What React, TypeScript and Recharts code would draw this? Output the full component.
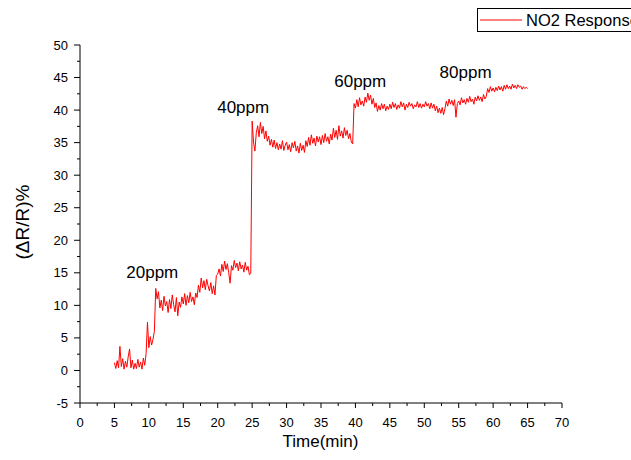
import { LineChart, Line, XAxis, YAxis, Legend, ReferenceDot } from 'recharts';

// sensor sampled every 0.2 min starting at 5 min
const START_MIN = 5;
const STEP_MIN = 0.2;

const resp05to10 = [1.2, 0.3, 1.5, 0.4, 3.7, 0.6, 1.8, 0.2, 1.4, 0.5, 2.1, 3.3, 0.4, 1.6, 0.2, 1.1, 0.3, 1.7, 0.5, 1.3, 0.2, 1.9, 0.8, 2.6, 7.4];
const resp10to15 = [3.5, 5.2, 3.9, 4.8, 6.0, 12.6, 11.0, 12.1, 9.6, 10.8, 9.2, 11.4, 9.9, 10.6, 8.9, 10.9, 9.5, 11.6, 10.1, 9.0, 11.2, 8.4, 10.5, 9.7, 11.3];
const resp15to20 = [10.2, 11.8, 10.0, 11.5, 10.4, 12.0, 10.6, 11.3, 10.1, 11.9, 11.2, 13.1, 12.0, 14.2, 12.7, 13.8, 12.4, 14.0, 13.0, 12.2, 13.5, 11.8, 13.0, 11.6, 14.6];
const resp20to25 = [14.8, 15.6, 14.5, 16.3, 15.2, 16.8, 15.5, 16.4, 15.0, 13.4, 16.1, 15.4, 16.9, 15.8, 16.5, 15.3, 16.7, 15.6, 16.2, 15.1, 16.6, 15.4, 16.0, 14.7, 14.9];
const resp25to30 = [38.3, 35.1, 33.7, 36.5, 37.6, 35.9, 38.1, 36.4, 37.5, 35.6, 36.8, 35.2, 36.0, 34.6, 35.5, 34.3, 35.4, 34.1, 35.0, 33.9, 34.8, 34.0, 35.3, 33.8, 34.6];
const resp30to35 = [35.1, 33.9, 34.7, 33.6, 35.0, 34.2, 35.2, 33.7, 34.5, 33.4, 34.9, 33.8, 34.6, 33.5, 35.3, 34.4, 35.8, 34.6, 36.2, 34.9, 35.7, 34.5, 36.0, 35.1, 35.9];
const resp35to40 = [34.7, 36.1, 35.0, 36.4, 35.2, 35.9, 34.8, 36.3, 35.4, 37.2, 35.8, 36.9, 35.5, 37.6, 36.0, 36.8, 35.7, 37.3, 36.1, 36.9, 35.6, 36.4, 35.1, 34.8, 41.0];
const resp40to45 = [40.3, 41.6, 40.5, 41.9, 40.8, 41.4, 40.6, 42.0, 41.2, 42.6, 41.5, 42.3, 40.9, 41.8, 40.4, 41.1, 39.8, 40.7, 40.0, 41.0, 40.2, 40.9, 39.9, 40.6, 40.1];
const resp45to50 = [40.9, 40.2, 41.2, 40.4, 41.0, 40.1, 40.8, 40.3, 41.3, 40.5, 41.1, 40.0, 40.9, 40.4, 41.2, 40.6, 41.0, 40.2, 40.8, 40.5, 41.3, 40.4, 41.0, 40.3, 40.9];
const resp50to55 = [40.5, 41.3, 40.6, 41.0, 40.2, 41.1, 40.3, 40.9, 39.9, 40.6, 39.6, 40.3, 39.5, 40.4, 39.3, 40.2, 41.4, 40.6, 41.7, 40.9, 41.5, 40.7, 41.6, 38.9, 41.0];
const resp55to60 = [41.4, 40.8, 41.9, 41.1, 41.6, 40.9, 41.8, 41.2, 42.1, 41.3, 41.7, 40.9, 42.0, 41.4, 42.2, 41.5, 42.0, 41.3, 42.4, 41.7, 42.1, 43.3, 42.7, 43.6, 42.9];
const resp60to65 = [43.4, 42.8, 43.5, 43.0, 43.7, 43.1, 43.6, 42.9, 43.8, 43.2, 43.9, 43.3, 43.7, 43.2, 44.0, 43.4, 43.8, 43.3, 43.9, 43.5, 43.7, 43.2, 43.6, 43.3, 43.5, 43.3];

const responseValues = [
  ...resp05to10, ...resp10to15, ...resp15to20, ...resp20to25,
  ...resp25to30, ...resp30to35, ...resp35to40, ...resp40to45,
  ...resp45to50, ...resp50to55, ...resp55to60, ...resp60to65,
];

const xTicks = [0, 2.5, 5, 7.5, 10, 12.5, 15, 17.5, 20, 22.5, 25, 27.5, 30, 32.5, 35, 37.5, 40, 42.5, 45, 47.5, 50, 52.5, 55, 57.5, 60, 62.5, 65, 67.5, 70];
const yTicks = [-5, -2.5, 0, 2.5, 5, 7.5, 10, 12.5, 15, 17.5, 20, 22.5, 25, 27.5, 30, 32.5, 35, 37.5, 40, 42.5, 45, 47.5, 50];

const ppmLabels = ['20ppm', '40ppm', '60ppm', '80ppm'];
const ppmLabelTime = [10.5, 23.7, 40.7, 56.0];
const ppmLabelResp = [14.2, 39.6, 43.6, 45.0];

const data = responseValues.map((v, i) => ({
  time: +(START_MIN + i * STEP_MIN).toFixed(1),
  response: v,
}));

const FONT = '"Liberation Sans", Arial, sans-serif';

const XTick = (props: any) => {
  const { x, y, payload } = props;
  const major = payload.value % 5 === 0;
  return (
    <g>
      <line x1={x} y1={y} x2={x} y2={y + (major ? 5 : 3)} stroke="#000" strokeWidth={1} />
      {major && (
        <text x={x} y={y + 15} dy="0.71em" textAnchor="middle" fontSize={13} fontFamily={FONT} fill="#000">
          {payload.value}
        </text>
      )}
    </g>
  );
};

const YTick = (props: any) => {
  const { x, y, payload } = props;
  const major = payload.value % 5 === 0;
  return (
    <g>
      <line x1={x - (major ? 6 : 3)} y1={y} x2={x} y2={y} stroke="#000" strokeWidth={1} />
      {major && (
        <text x={x - 12} y={y} dy="0.35em" textAnchor="end" fontSize={13} fontFamily={FONT} fill="#000">
          {payload.value}
        </text>
      )}
    </g>
  );
};

const LegendBox = () => (
  <div
    style={{
      border: '1px solid #000',
      height: 24,
      width: 180,
      boxSizing: 'border-box',
      display: 'flex',
      alignItems: 'center',
      background: '#fff',
      fontFamily: FONT,
      fontSize: 16.5,
      color: '#000',
      whiteSpace: 'nowrap',
    }}
  >
    <svg width={48} height={10} style={{ display: 'block' }}>
      <line x1={2} y1={5} x2={44} y2={5} stroke="#ff0000" strokeWidth={1} />
    </svg>
    <span>NO2 Response</span>
  </div>
);

export default function App() {
  return (
    <div style={{ position: 'absolute', left: 0, top: 0, width: 631, height: 460, overflow: 'hidden', background: '#fff' }}>
      <LineChart width={631} height={460} data={data} margin={{ top: 45, right: 69, bottom: 0, left: 0 }}>
        <XAxis
          dataKey="time"
          type="number"
          domain={[0, 70]}
          ticks={xTicks}
          interval={0}
          tickSize={0}
          tickMargin={0}
          tickLine={false}
          tick={<XTick />}
          height={57}
          axisLine={{ stroke: '#000', strokeWidth: 1 }}
          label={{
            content: () => (
              <text x={320.5} y={447} textAnchor="middle" fontSize={17} fontFamily={FONT} fill="#000">
                Time(min)
              </text>
            ),
          }}
        />
        <YAxis
          type="number"
          domain={[-5, 50]}
          ticks={yTicks}
          interval={0}
          width={80}
          tickSize={0}
          tickMargin={0}
          tickLine={false}
          tick={<YTick />}
          axisLine={{ stroke: '#000', strokeWidth: 1 }}
          label={{
            content: () => (
              <text
                x={22}
                y={222}
                textAnchor="middle"
                dominantBaseline="central"
                transform="rotate(-90, 22, 222)"
                fontSize={19}
                fontFamily={FONT}
                fill="#000"
              >
                (ΔR/R)%
              </text>
            ),
          }}
        />
        <Legend
          layout="vertical"
          align="center"
          verticalAlign="middle"
          content={<LegendBox />}
          wrapperStyle={{ left: 477, top: 8, width: 180, height: 24 }}
        />
        <Line
          type="linear"
          dataKey="response"
          stroke="#ff0000"
          strokeWidth={1}
          dot={false}
          activeDot={false}
          isAnimationActive={false}
        />
        {ppmLabels.map((t, i) => (
          <ReferenceDot
            key={t}
            x={ppmLabelTime[i]}
            y={ppmLabelResp[i]}
            r={0}
            ifOverflow="visible"
            shape={(p: any) => (
              <text x={p.cx} y={p.cy} textAnchor="middle" fontSize={17} fontFamily={FONT} fill="#000">
                {t}
              </text>
            )}
          />
        ))}
      </LineChart>
    </div>
  );
}
